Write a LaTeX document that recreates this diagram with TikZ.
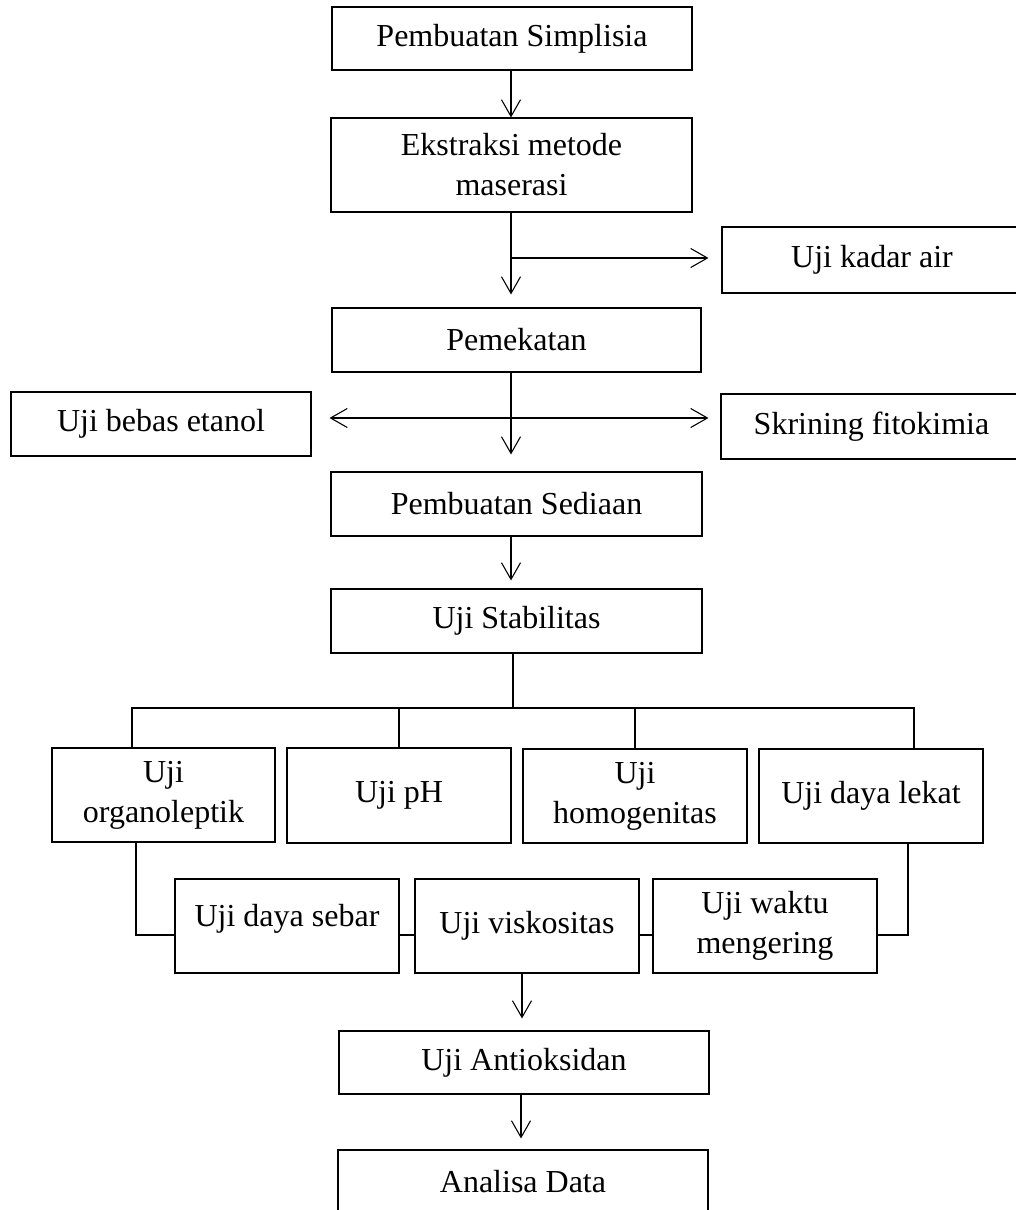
\documentclass[tikz,border=0pt]{standalone}
\usepackage{fontspec}
\setmainfont{Liberation Serif}
\usetikzlibrary{arrows.meta}
\tikzset{
  flowbox/.style={draw=black, line width=0.8pt, inner sep=0pt, align=center,
    font=\fontsize{24}{30}\selectfont},
  conn/.style={draw=black, line width=0.8pt},
  arr/.style={conn, -{Straight Barb[length=12.5pt,width=14.25pt,line width=0.8pt]}},
  darr/.style={conn, {Straight Barb[length=12.5pt,width=14.25pt,line width=0.8pt]}-{Straight Barb[length=12.5pt,width=14.25pt,line width=0.8pt]}}
}
% name, x1, y1, x2, y2, options, text
\newcommand{\flowboxat}[7]{%
  \node[flowbox, minimum width={(#4-#2)*0.75pt}, minimum height={(#5-#3)*0.75pt}, #6]
    (#1) at ({(#2+#4)/2},{(#3+#5)/2}) {#7};}
\begin{document}
\begin{tikzpicture}[x=0.75pt,y=-0.75pt]
\useasboundingbox (0,0) rectangle (1016,1210);
\fill[white] (0,0) rectangle (1016,1210);

\flowboxat{b1}{332}{7}{692}{70}{}{Pembuatan Simplisia}
\flowboxat{b2}{331}{118}{692}{212}{}{Ekstraksi metode\\maserasi}
\flowboxat{kadar}{722}{227}{1022}{293}{}{Uji kadar air}
\flowboxat{pem}{332}{308}{701}{372}{}{Pemekatan}
\flowboxat{etanol}{11}{392}{311}{456}{}{Uji bebas etanol}
\flowboxat{skr}{721}{394}{1022}{459}{}{Skrining fitokimia}
\flowboxat{sed}{331}{472}{702}{536}{}{Pembuatan Sediaan}
\flowboxat{stab}{331}{589}{702}{653}{}{Uji Stabilitas}

\flowboxat{org}{52}{748}{275}{842}{}{Uji\\organoleptik}
\flowboxat{ph}{287}{748}{511}{843}{}{Uji pH}
\flowboxat{homo}{523}{749}{747}{843}{}{Uji\\homogenitas}
\flowboxat{lek}{759}{749}{983}{843}{}{Uji daya lekat}

\flowboxat{sebar}{175}{879}{399}{973}{text depth=16pt}{Uji daya sebar}
\flowboxat{visk}{415}{879}{639}{973}{}{Uji viskositas}
\flowboxat{waktu}{653}{879}{877}{973}{}{Uji waktu\\mengering}

\flowboxat{anti}{339}{1031}{709}{1094}{}{Uji Antioksidan}
\flowboxat{ana}{338}{1150}{708}{1214}{}{Analisa Data}

% main vertical line coordinates
\coordinate (vx) at (511,0);
\coordinate (dbl) at (511,418);
\coordinate (bus) at (513,708);
\coordinate (dl) at (132,708);
\coordinate (dr) at (914,708);
\coordinate (cl) at (136,935);
\coordinate (cr) at (908,935);
\coordinate (va) at (522,1000);
\coordinate (vb) at (521,1120);

\draw[arr] (b1.south -| vx) -- (b2.north -| vx);
\draw[arr, shorten >=9.75pt] (b2.south -| vx) -- (pem.north -| vx);
\draw[arr, shorten >=9.75pt] (vx |- 0,258) -- (kadar.west |- 0,258);
\draw[arr, shorten >=12.75pt] (pem.south -| vx) -- (sed.north -| vx);
\draw[darr, shorten <=13.5pt, shorten >=9pt] (etanol.east |- dbl) -- (skr.west |- dbl);
\draw[arr, shorten >=6pt] (sed.south -| vx) -- (stab.north -| vx);

\draw[conn] (stab.south -| bus) -- (bus);
\draw[conn] (org.north -| dl) -- (dl) -- (dr) -- (lek.north -| dr);
\draw[conn] (ph.north) -- (ph.north |- dl);
\draw[conn] (homo.north) -- (homo.north |- dl);

\draw[conn] (org.south -| cl) -- (cl) -- (sebar.west |- cl);
\draw[conn] (sebar.east |- cl) -- (visk.west |- cl);
\draw[conn] (visk.east |- cl) -- (waktu.west |- cl);
\draw[conn] (lek.south -| cr) -- (cr) -- (waktu.east |- cr);

\draw[arr, shorten >=9pt] (visk.south -| va) -- (anti.north -| va);
\draw[arr, shorten >=8.25pt] (anti.south -| vb) -- (ana.north -| vb);
\end{tikzpicture}
\end{document}
